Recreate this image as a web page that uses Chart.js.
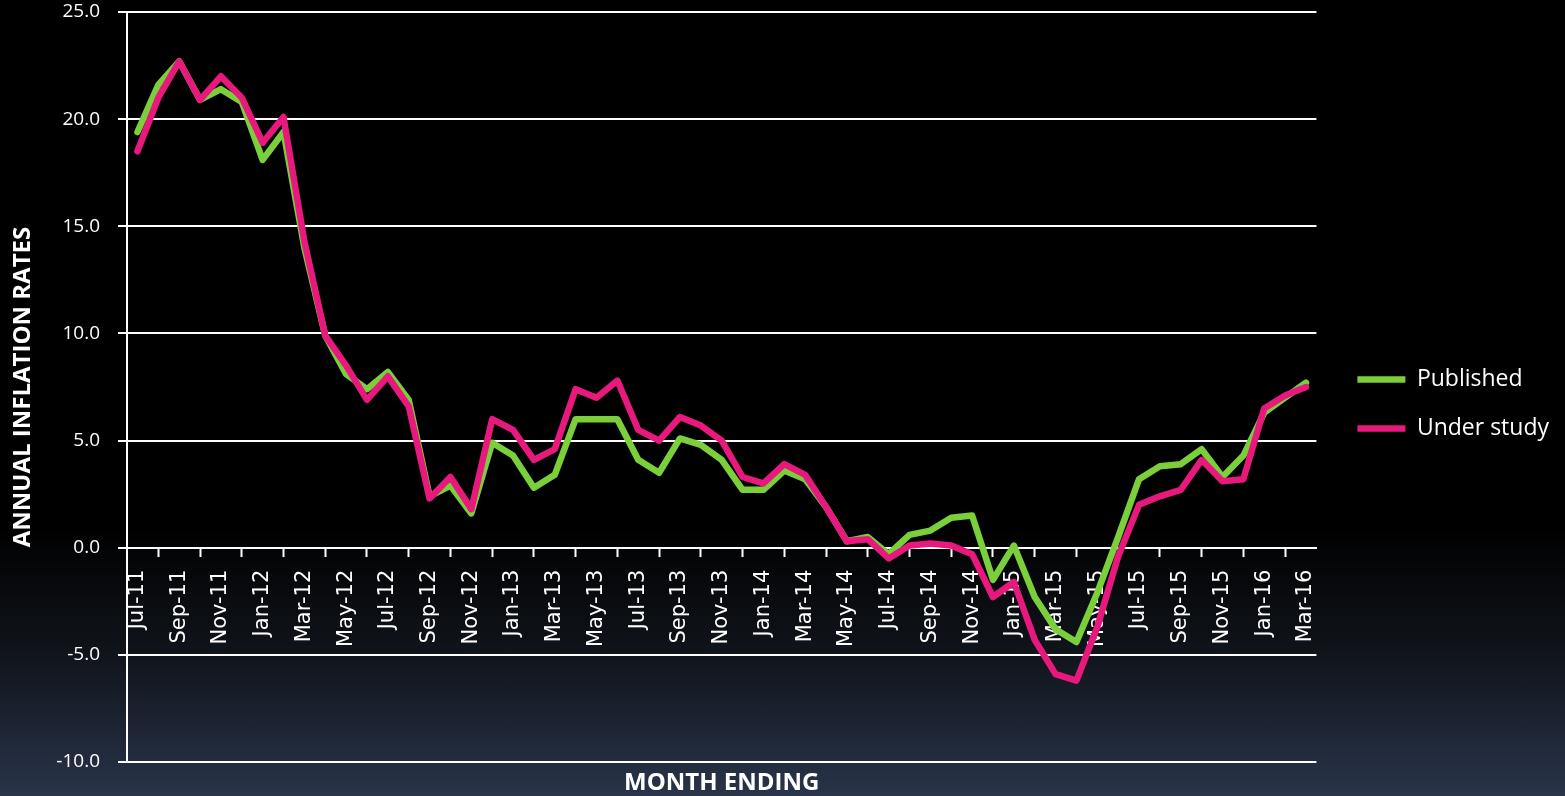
<!DOCTYPE html>
<html>
<head>
<meta charset="utf-8">
<script src="https://cdn.jsdelivr.net/npm/chart.js@4.4.1/dist/chart.umd.min.js"></script>
<style>
    html, body { margin: 0; padding: 0; }
    body {
        width: 1565px;
        height: 796px;
        overflow: hidden;
        background: linear-gradient(to bottom, #000 0%, #000 66%, #10141b 82%, #29344a 100%);
    }
    #wrap { position: relative; width: 1565px; height: 796px; }
</style>
</head>
<body>
<div id="wrap"><canvas id="inflationChart"></canvas></div>
<script>
var months = [
    'Jul-11', 'Aug-11', 'Sep-11', 'Oct-11', 'Nov-11', 'Dec-11',
    'Jan-12', 'Feb-12', 'Mar-12', 'Apr-12', 'May-12', 'Jun-12', 'Jul-12', 'Aug-12', 'Sep-12', 'Oct-12', 'Nov-12', 'Dec-12',
    'Jan-13', 'Feb-13', 'Mar-13', 'Apr-13', 'May-13', 'Jun-13', 'Jul-13', 'Aug-13', 'Sep-13', 'Oct-13', 'Nov-13', 'Dec-13',
    'Jan-14', 'Feb-14', 'Mar-14', 'Apr-14', 'May-14', 'Jun-14', 'Jul-14', 'Aug-14', 'Sep-14', 'Oct-14', 'Nov-14', 'Dec-14',
    'Jan-15', 'Feb-15', 'Mar-15', 'Apr-15', 'May-15', 'Jun-15', 'Jul-15', 'Aug-15', 'Sep-15', 'Oct-15', 'Nov-15', 'Dec-15',
    'Jan-16', 'Feb-16', 'Mar-16'
];

var published = [
    19.4, 21.6, 22.7, 20.9, 21.4, 20.8,
    18.1, 19.4, 14.0, 9.9, 8.1, 7.4, 8.2, 6.9, 2.4, 2.9, 1.6, 4.9,
    4.3, 2.8, 3.4, 6.0, 6.0, 6.0, 4.1, 3.5, 5.1, 4.8, 4.1, 2.7,
    2.7, 3.6, 3.2, 1.9, 0.3, 0.5, -0.3, 0.6, 0.8, 1.4, 1.5, -1.5,
    0.1, -2.3, -3.8, -4.4, -2.1, 0.5, 3.2, 3.8, 3.9, 4.6, 3.3, 4.3,
    6.3, 7.0, 7.7
];

var underStudy = [
    18.5, 21.0, 22.7, 20.9, 22.0, 21.0,
    18.9, 20.1, 14.3, 9.9, 8.5, 6.9, 8.0, 6.6, 2.3, 3.3, 1.8, 6.0,
    5.5, 4.1, 4.6, 7.4, 7.0, 7.8, 5.5, 5.0, 6.1, 5.7, 5.0, 3.3,
    3.0, 3.9, 3.4, 1.9, 0.3, 0.4, -0.5, 0.1, 0.2, 0.1, -0.3, -2.3,
    -1.6, -4.3, -5.9, -6.2, -3.7, -0.4, 2.0, 2.4, 2.7, 4.1, 3.1, 3.2,
    6.5, 7.1, 7.5
];

var seriesNames = ['Published', 'Under study'];
var seriesColors = ['#7acf3a', '#e8197d'];

var yMin = -10;
var yMax = 25;
var yStep = 5;

var ctx = document.getElementById('inflationChart').getContext('2d');

new Chart(ctx, {
    type: 'line',
    data: {
        labels: months,
        datasets: [
            {
                label: seriesNames[0],
                data: published,
                borderColor: seriesColors[0],
                backgroundColor: seriesColors[0],
                borderWidth: 6.5,
                borderCapStyle: 'round',
                borderJoinStyle: 'round',
                pointRadius: 0,
                tension: 0,
                order: 1
            },
            {
                label: seriesNames[1],
                data: underStudy,
                borderColor: seriesColors[1],
                backgroundColor: seriesColors[1],
                borderWidth: 6.5,
                borderCapStyle: 'round',
                borderJoinStyle: 'round',
                pointRadius: 0,
                tension: 0,
                order: 0   // pink sits on top of green
            }
        ]
    },
    options: {
        responsive: true,
        maintainAspectRatio: false,
        animation: false,
        layout: {
            padding: { top: 12, right: 6, bottom: 0, left: 0 }
        },
        scales: {
            x: {
                type: 'category',
                offset: true,
                position: { y: 0 },
                afterFit: function(scale) {
                    scale.paddingTop = 0;
                    scale.paddingBottom = 0;
                },
                grid: {
                    offset: true,
                    drawOnChartArea: false,
                    drawTicks: true,
                    tickLength: 8,
                    tickWidth: 2,
                    color: '#ffffff'
                },
                border: { display: true, color: '#ffffff', width: 2 },
                ticks: {
                    autoSkip: false,
                    minRotation: 90,
                    maxRotation: 90,
                    padding: 14,
                    color: '#ffffff',
                    font: { family: 'DejaVu Sans', size: 21 },
                    callback: function(value, index) {
                        // only every second month gets a label and a tick mark
                        return index % 2 === 0 ? this.getLabelForValue(value) : null;
                    }
                }
            },
            y: {
                min: yMin,
                max: yMax,
                position: 'left',
                afterFit: function(scale) {
                    scale.width = 127;
                    scale.paddingTop = 0;
                    scale.paddingBottom = 0;
                },
                grid: {
                    color: '#ffffff',
                    lineWidth: 2,
                    drawTicks: true,
                    tickLength: 9
                },
                border: { display: true, color: '#ffffff', width: 2 },
                ticks: {
                    stepSize: yStep,
                    padding: 18,
                    color: '#ffffff',
                    font: { family: 'Open Sans', size: 19 },
                    callback: function(value) {
                        return value.toFixed(1);
                    }
                },
                title: {
                    display: true,
                    text: 'ANNUAL INFLATION RATES',
                    color: '#ffffff',
                    font: { family: 'Open Sans', size: 24, weight: 'bold', lineHeight: 1.2 },
                    padding: { top: 9, bottom: 0 }
                }
            },
            // empty axis, only keeps a gap between the plot and the legend
            gap: {
                type: 'linear',
                position: 'right',
                display: true,
                afterFit: function(scale) {
                    scale.width = 15;
                    scale.paddingTop = 0;
                    scale.paddingBottom = 0;
                },
                grid: { display: false },
                border: { display: false },
                ticks: { display: false }
            }
        },
        plugins: {
            legend: {
                position: 'right',
                labels: {
                    usePointStyle: true,
                    pointStyle: 'line',
                    pointStyleWidth: 48,
                    boxHeight: 6,
                    padding: 26,
                    color: '#ffffff',
                    font: { family: 'Open Sans', size: 23 },
                    sort: function(a, b) {
                        return a.datasetIndex - b.datasetIndex;
                    }
                }
            },
            title: {
                display: true,
                text: 'MONTH ENDING',
                position: 'bottom',
                fullSize: false,
                color: '#ffffff',
                font: { family: 'Open Sans', size: 24, weight: 'bold', lineHeight: 1 },
                padding: { top: 9, bottom: 1 }
            },
            tooltip: { enabled: false }
        }
    }
});
</script>
</body>
</html>
